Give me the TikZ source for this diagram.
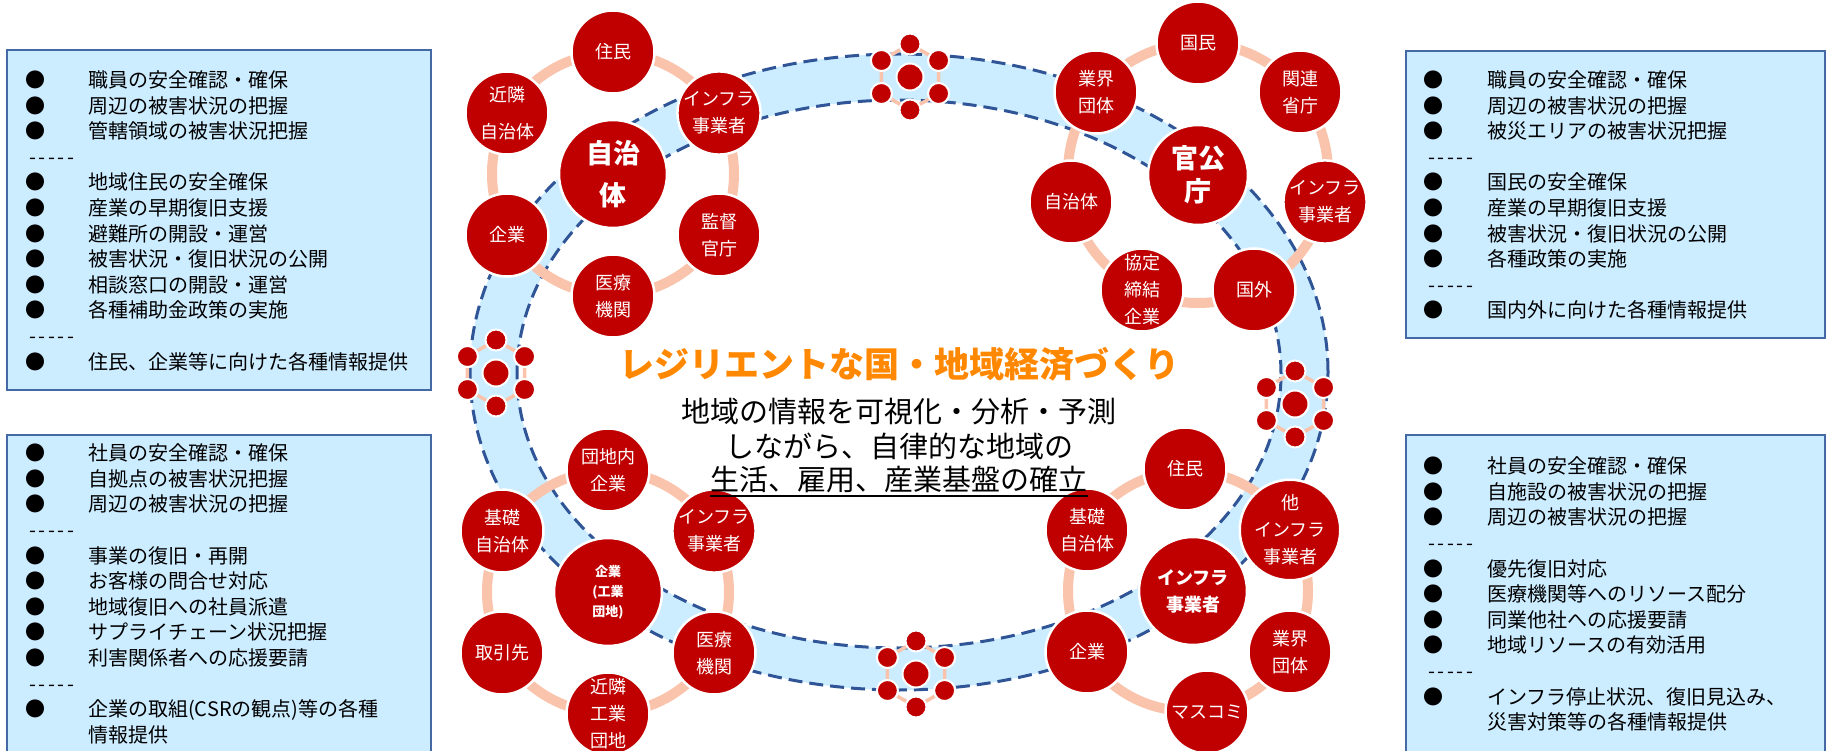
\documentclass[tikz,border=0pt]{standalone}
\usepackage{fontspec}
\setmainfont{Noto Sans CJK JP}
\definecolor{cred}{RGB}{192,0,0}
\definecolor{salmon}{RGB}{250,195,172}
\definecolor{bandblue}{RGB}{204,236,255}
\definecolor{dashblue}{RGB}{47,85,151}
\definecolor{boxborder}{RGB}{68,105,165}
\definecolor{titleorange}{RGB}{255,136,0}
\tikzset{
  itm/.style={anchor=west, inner sep=0pt, font=\fontsize{20}{24}\selectfont, text height=17.6pt, text depth=2.4pt},
  bul/.style={inner sep=0pt, font=\fontsize{20}{20}\selectfont},
  infobox/.style={fill=bandblue, draw=boxborder, line width=2pt},
  sat/.style={circle, fill=cred, draw=white, line width=2.5pt, minimum size=83pt, inner sep=0pt, text=white, align=center, font=\fontsize{18}{27}\selectfont},
  hub/.style={sat, minimum size=108pt},
  ring/.style={draw=salmon, line width=10pt},
  minisat/.style={circle, fill=cred, draw=white, line width=2pt, minimum size=21pt, inner sep=0pt},
  minihub/.style={minisat, minimum size=27pt},
  minihex/.style={draw=salmon, line width=3.5pt},
  dashring/.style={draw=dashblue, line width=3pt, dash pattern=on 14pt off 7pt},
  subtxt/.style={inner sep=0pt, font=\fontsize{29}{35}\selectfont, text height=25.5pt, text depth=3.5pt}
}
\newcommand\minicl[3]{%
  \coordinate (#1pa) at (#2,#3-33);
  \coordinate (#1pb) at (#2+28.6,#3-16.5);
  \coordinate (#1pc) at (#2+28.6,#3+16.5);
  \coordinate (#1pd) at (#2,#3+33);
  \coordinate (#1pe) at (#2-28.6,#3+16.5);
  \coordinate (#1pf) at (#2-28.6,#3-16.5);
  \draw[minihex] (#1pa) -- (#1pb) -- (#1pc) -- (#1pd) -- (#1pe) -- (#1pf) -- cycle;
  \foreach \q in {a,b,c,d,e,f} {\node[minisat] (#1\q) at (#1p\q) {};}
  \node[minihub] (#1h) at (#2,#3) {};
}
\begin{document}
\begin{tikzpicture}[x=1pt,y=-1pt]
\useasboundingbox (0,0) rectangle (1829,751);
\fill[white] (0,0) rectangle (1829,751);

% ---------- band ----------
\fill[bandblue, even odd rule] (899,372) ellipse [x radius=429pt, y radius=318pt] (899,374) ellipse [x radius=382pt, y radius=274pt];
\draw[dashring] (899,372) ellipse [x radius=429pt, y radius=318pt];
\draw[dashring] (899,374) ellipse [x radius=382pt, y radius=274pt];

% ---------- info boxes ----------
\draw[infobox] (7,50) rectangle (431,390);
\draw[infobox] (7,435) rectangle (431,770);
\draw[infobox] (1406,51) rectangle (1825,338);
\draw[infobox] (1406,435) rectangle (1825,770);

% box 1
\foreach \yy/\txt [count=\k] in {80/職員の安全確認・確保, 105.6/周辺の被害状況の把握, 131.2/管轄領域の被害状況把握, 182.4/地域住民の安全確保, 208/産業の早期復旧支援, 233.6/避難所の開設・運営, 259.2/被害状況・復旧状況の公開, 284.8/相談窓口の開設・運営, 310.4/各種補助金政策の実施, 361.6/住民、企業等に向けた各種情報提供} {
  \node[bul] (ab\k) at (35,\yy) {●};
  \node[itm] (at\k) at (88,\yy) {\txt};
}
\node[itm] (ad1) at (29,156.8) {-\kern2.6pt-\kern2.6pt-\kern2.6pt-\kern2.6pt-};
\node[itm] (ad2) at (29,336) {-\kern2.6pt-\kern2.6pt-\kern2.6pt-\kern2.6pt-};

% box 2
\foreach \yy/\txt [count=\k] in {453/社員の安全確認・確保, 478.6/自拠点の被害状況把握, 504.2/周辺の被害状況の把握, 555.4/事業の復旧・再開, 581/お客様の問合せ対応, 606.6/地域復旧への社員派遣, 632.2/サプライチェーン状況把握, 657.8/利害関係者への応援要請, 709/企業の取組(CSRの観点)等の各種} {
  \node[bul] (bb\k) at (35,\yy) {●};
  \node[itm] (bt\k) at (88,\yy) {\txt};
}
\node[itm] (btx) at (88,734.6) {情報提供};
\node[itm] (bd1) at (29,529.8) {-\kern2.6pt-\kern2.6pt-\kern2.6pt-\kern2.6pt-};
\node[itm] (bd2) at (29,683.4) {-\kern2.6pt-\kern2.6pt-\kern2.6pt-\kern2.6pt-};

% box 3
\foreach \yy/\txt [count=\k] in {80/職員の安全確認・確保, 105.6/周辺の被害状況の把握, 131.2/被災エリアの被害状況把握, 182.4/国民の安全確保, 208/産業の早期復旧支援, 233.6/被害状況・復旧状況の公開, 259.2/各種政策の実施, 310.4/国内外に向けた各種情報提供} {
  \node[bul] (cb\k) at (1433,\yy) {●};
  \node[itm] (ct\k) at (1487,\yy) {\txt};
}
\node[itm] (cd1) at (1428,156.8) {-\kern2.6pt-\kern2.6pt-\kern2.6pt-\kern2.6pt-};
\node[itm] (cd2) at (1428,284.8) {-\kern2.6pt-\kern2.6pt-\kern2.6pt-\kern2.6pt-};

% box 4
\foreach \yy/\txt [count=\k] in {466/社員の安全確認・確保, 491.6/自施設の被害状況の把握, 517.2/周辺の被害状況の把握, 568.4/優先復旧対応, 594/医療機関等へのリソース配分, 619.6/同業他社への応援要請, 645.2/地域リソースの有効活用, 696.4/インフラ停止状況、復旧見込み、} {
  \node[bul] (db\k) at (1433,\yy) {●};
  \node[itm] (dt\k) at (1487,\yy) {\txt};
}
\node[itm] (dtx) at (1487,722) {災害対策等の各種情報提供};
\node[itm] (dd1) at (1428,542.8) {-\kern2.6pt-\kern2.6pt-\kern2.6pt-\kern2.6pt-};
\node[itm] (dd2) at (1428,670.8) {-\kern2.6pt-\kern2.6pt-\kern2.6pt-\kern2.6pt-};

% ---------- cluster: 自治体 ----------
\coordinate (jc) at (613,174);
\draw[ring] (jc) circle [radius=121pt];
\node[sat] (j1) at (613,52) {住民};
\node[sat] (j2) at (507,113) {近隣\\[10pt]自治体};
\node[sat] (j3) at (719,113) {インフラ\\事業者};
\node[sat] (j4) at (507,235) {企業};
\node[sat] (j5) at (719,235) {監督\\官庁};
\node[sat] (j6) at (613,296) {医療\\機関};
\node[hub, font=\fontsize{27}{42}\selectfont\bfseries] (jhub) at (jc) {自治\\体};

% ---------- cluster: 官公庁 ----------
\coordinate (kc) at (1198,173);
\draw[ring] (kc) circle [radius=130pt];
\node[sat] (k1) at (1198,43) {国民};
\node[sat] (k2) at (1300,92) {関連\\省庁};
\node[sat] (k3) at (1096,92) {業界\\団体};
\node[sat] (k4) at (1325,202) {インフラ\\事業者};
\node[sat] (k5) at (1071,202) {自治体};
\node[sat] (k6) at (1254,290) {国外};
\node[sat] (k7) at (1142,290) {協定\\締結\\企業};
\node[hub, minimum size=100pt, font=\fontsize{27}{33}\selectfont\bfseries] (khub) at (1198,175) {官公\\庁};

% ---------- cluster: 企業（工業団地） ----------
\coordinate (gc) at (608,592);
\draw[ring] (gc) circle [radius=121pt];
\node[sat] (g1) at (608,470) {団地内\\企業};
\node[sat] (g2) at (502,531) {基礎\\自治体};
\node[sat] (g3) at (714,531) {インフラ\\事業者};
\node[sat] (g4) at (502,653) {取引先};
\node[sat] (g5) at (714,653) {医療\\機関};
\node[sat] (g6) at (608,714) {近隣\\工業\\団地};
\node[hub, font=\fontsize{13}{20}\selectfont\bfseries] (ghub) at (gc) {企業\\(工業\\団地)};

% ---------- cluster: インフラ事業者 ----------
\coordinate (ic) at (1188,591);
\draw[ring] (ic) circle [radius=120pt];
\node[sat] (i1) at (1185,469) {住民};
\node[sat] (i2) at (1087,530) {基礎\\自治体};
\node[sat] (i3) at (1290,530) {他\\インフラ\\事業者};
\node[sat] (i4) at (1087,652) {企業};
\node[sat] (i5) at (1290,652) {業界\\団体};
\node[sat] (i6) at (1207,712) {マスコミ};
\node[hub, font=\fontsize{18}{27}\selectfont\bfseries] (ihub) at (1193,591) {インフラ\\事業者};

% ---------- mini clusters ----------
\minicl{m1}{910}{77}
\minicl{m2}{496}{373}
\minicl{m3}{1295}{404}
\minicl{m4}{916}{674}

% ---------- central text ----------
\node[inner sep=0pt, font=\fontsize{35}{40}\selectfont\bfseries, text=titleorange] (title) at (899,364) {レジリエントな国・地域経済づくり};
\node[subtxt] (sub1) at (899,411) {地域の情報を可視化・分析・予測};
\node[subtxt] (sub2) at (899,446) {しながら、自律的な地域の};
\node[subtxt] (sub3) at (899,479) {生活、雇用、産業基盤の確立};
\draw[line width=1.6pt] ([yshift=-2.5pt]sub3.south west) -- ([yshift=-2.5pt]sub3.south east);
\end{tikzpicture}
\end{document}
